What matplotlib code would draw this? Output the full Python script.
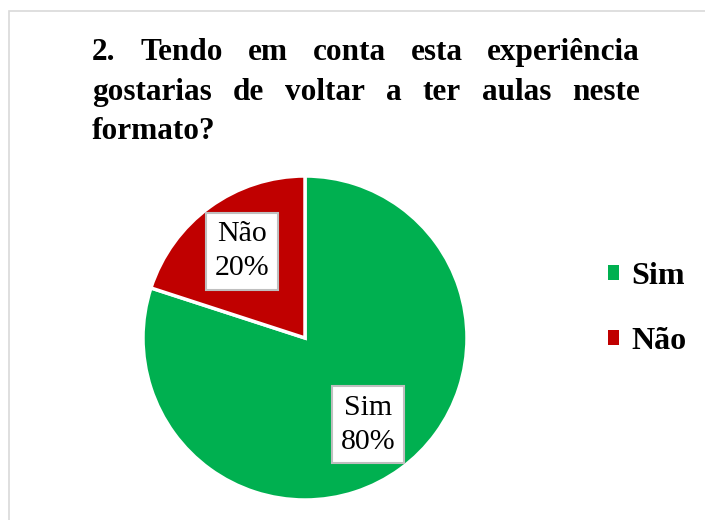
import matplotlib
matplotlib.use("Agg")
import matplotlib.pyplot as plt
from matplotlib.patches import Rectangle

# data
labels = ["Sim", "Não"]
values = [80, 20]
colors = ["#00B050", "#C00000"]
title_lines = [
    "2. Tendo em conta esta experiência",
    "gostarias de voltar a ter aulas neste",
    "formato?",
]

W, H = 705, 520
plt.rcParams['font.family'] = ['Liberation Serif', 'DejaVu Serif']

fig = plt.figure(figsize=(W / 100, H / 100), dpi=100)

# light chart-area border
fig.patches.append(Rectangle((9 / W, -0.1), 1.2, 1 - 11 / H + 0.1, transform=fig.transFigure,
                             facecolor="none", edgecolor="#D9D9D9", linewidth=1.2))

# title, justified by hand like the original
renderer = fig.canvas.get_renderer()
left, right = 92, 640
baselines = [60, 100, 139]
for i, line in enumerate(title_lines):
    words = line.split()
    texts = [fig.text(0, 1 - baselines[i] / H, w, fontsize=22.5, fontweight="bold",
                      va="baseline", ha="left") for w in words]
    widths = [t.get_window_extent(renderer).width for t in texts]
    if i < len(title_lines) - 1 and len(words) > 1:
        gap = (right - left - sum(widths)) / (len(words) - 1)
    else:
        gap = 0.25 * 22 * 100 / 72
    x = left
    for t, w in zip(texts, widths):
        t.set_x(x / W)
        x += w + gap

# pie
cx, cy, r = 305, 338, 162
ax = fig.add_axes([(cx - r) / W, (H - cy - r) / H, 2 * r / W, 2 * r / H])
wedges, _, autotexts = ax.pie(values, colors=colors, startangle=90, counterclock=False,
                              autopct=lambda p: "", pctdistance=0.66,
                              wedgeprops=dict(edgecolor="white", linewidth=2.5))
for t, lab, v in zip(autotexts, labels, values):
    t.set_text(f"{lab}\n{v}%")
    t.set_fontsize(21.5)
    t.set_linespacing(1.4)
    t.set_bbox(dict(boxstyle="square,pad=0.28", facecolor="white", edgecolor="#BFBFBF", linewidth=1.5))
ax.set_xlim(-1, 1)
ax.set_ylim(-1, 1)
ax.set_aspect("equal")
ax.axis("off")

# legend
fs = 23 * 100 / 72
handles = [Rectangle((0, 0), 1, 1, facecolor=c) for c in colors]
fig.legend(handles, labels, loc="center left", bbox_to_anchor=(608 / W, 1 - 309 / H),
           frameon=False, borderpad=0, borderaxespad=0,
           handlelength=11 / fs, handleheight=11 / fs, handletextpad=12 / fs,
           labelspacing=(68 - fs) / fs, prop=dict(size=23, weight="bold"))

fig.savefig("out.png", dpi=100)
